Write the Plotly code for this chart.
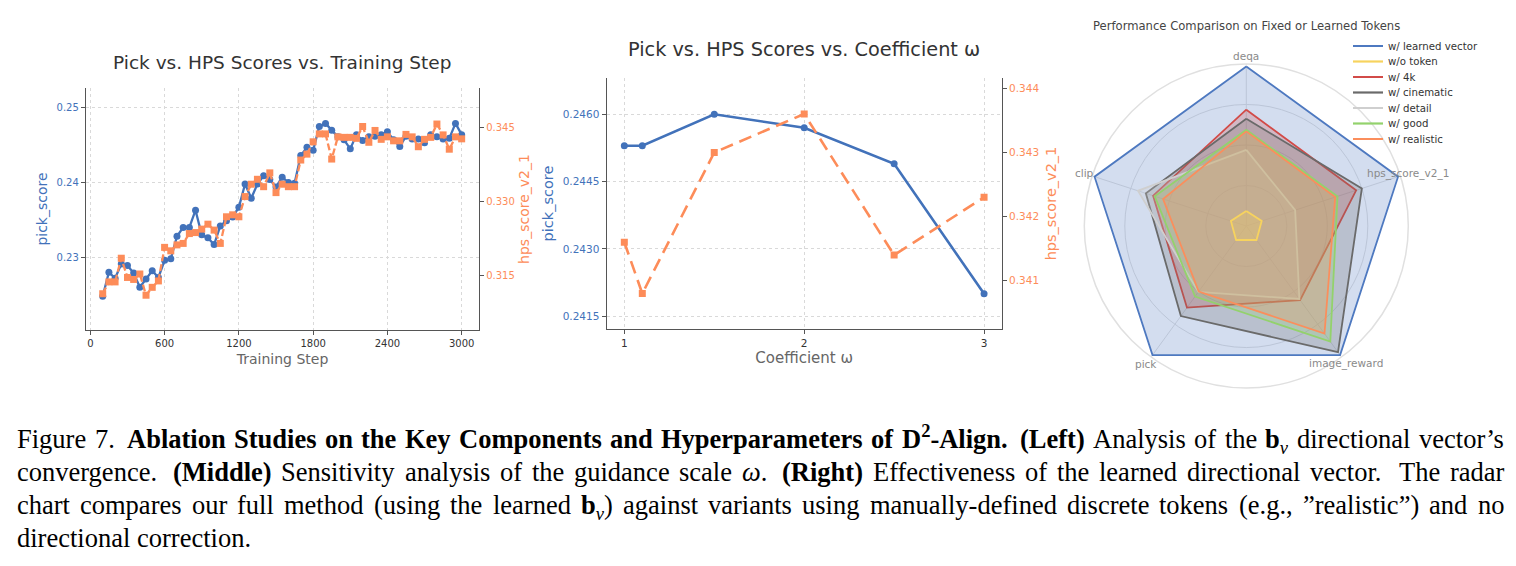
import math
import plotly.graph_objects as go

W, H = 1516, 566


def px(x):
    return x / W


def py(y):
    return 1 - y / H


# ---------------- data: left chart (training step) ----------------
steps = [100, 150, 200, 250, 300, 350, 400, 450, 500, 550, 600, 650, 700, 750, 800,
         850, 900, 950, 1000, 1050, 1100, 1150, 1200, 1250, 1300, 1350, 1400, 1450,
         1500, 1550, 1600, 1650, 1700, 1750, 1800, 1850, 1900, 1950, 2000, 2050, 2100,
         2150, 2200, 2250, 2300, 2350, 2400, 2450, 2500, 2550, 2600, 2650, 2700, 2750,
         2800, 2850, 2900, 2950, 3000]
pick_score_step = [0.2248, 0.2280, 0.2272, 0.2291, 0.2289, 0.2279, 0.2260, 0.2271, 0.2282,
                   0.2273, 0.2296, 0.2298, 0.2328, 0.2340, 0.2340, 0.2363, 0.2330, 0.2326,
                   0.2317, 0.2342, 0.2349, 0.2354, 0.2367, 0.2398, 0.2379, 0.2398, 0.2409,
                   0.2404, 0.2394, 0.2407, 0.2400, 0.2399, 0.2436, 0.2447, 0.2443, 0.2475,
                   0.2479, 0.2470, 0.2461, 0.2457, 0.2445, 0.2464, 0.2456, 0.2461, 0.2462,
                   0.2464, 0.2468, 0.2457, 0.2448, 0.2462, 0.2458, 0.2458, 0.2453, 0.2464,
                   0.2461, 0.2458, 0.2459, 0.2479, 0.2464]
hps_score_step = [0.3112, 0.3136, 0.3136, 0.3184, 0.3145, 0.3141, 0.3152, 0.3109, 0.3125,
                  0.3138, 0.3206, 0.3199, 0.3211, 0.3214, 0.3234, 0.3236, 0.3243, 0.3253,
                  0.3241, 0.3214, 0.3268, 0.3272, 0.3268, 0.3309, 0.3334, 0.3344, 0.3329,
                  0.3357, 0.3317, 0.3334, 0.3329, 0.3329, 0.3383, 0.3395, 0.3420, 0.3436,
                  0.3436, 0.3385, 0.3430, 0.3429, 0.3429, 0.3427, 0.3451, 0.3419, 0.3443,
                  0.3425, 0.3430, 0.3422, 0.3422, 0.3435, 0.3430, 0.3410, 0.3425, 0.3429,
                  0.3456, 0.3434, 0.3405, 0.3430, 0.3426]
step_ticks = [0, 600, 1200, 1800, 2400, 3000]
pick_ticks_step = [0.23, 0.24, 0.25]
hps_ticks_step = [0.315, 0.330, 0.345]

# ---------------- data: middle chart (coefficient omega) ----------------
omega = [1.0, 1.1, 1.5, 2.0, 2.5, 3.0]
pick_score_omega = [0.2453, 0.2453, 0.2460, 0.2457, 0.2449, 0.2420]
hps_score_omega = [0.3416, 0.3408, 0.3430, 0.3436, 0.3414, 0.3423]
omega_ticks = [1, 2, 3]
pick_ticks_omega = [0.2415, 0.2430, 0.2445, 0.2460]
hps_ticks_omega = [0.341, 0.342, 0.343, 0.344]

# ---------------- data: radar chart ----------------
radar_axes = ["deqa", "clip", "pick", "image_reward", "hps_score_v2_1"]
radar_series = ["w/ learned vector", "w/o token", "w/ 4k", "w/ cinematic",
                "w/ detail", "w/ good", "w/ realistic"]
learned_vector = [0.985, 0.985, 0.985, 0.985, 0.985]
wo_token = [0.093, 0.100, 0.107, 0.107, 0.100]
w_4k = [0.718, 0.605, 0.623, 0.565, 0.713]
w_cinematic = [0.662, 0.652, 0.687, 0.963, 0.750]
w_detail = [0.470, 0.703, 0.503, 0.557, 0.317]
w_good = [0.594, 0.594, 0.538, 0.882, 0.592]
w_realistic = [0.584, 0.540, 0.500, 0.821, 0.577]
radar_values = [learned_vector, wo_token, w_4k, w_cinematic, w_detail, w_good, w_realistic]
radar_colors = ["#4e79c0", "#f7d35e", "#d24b48", "#6a6a6a", "#cfcfcf", "#93d26c", "#fb8e5c"]

BLUE = "#4272ba"
ORANGE = "#fd8c59"
SPINE = "#555555"
GRID = "#d9d9d9"
SANS = "DejaVu Sans, Verdana, sans-serif"
SERIF = "Liberation Serif, Times New Roman, serif"

fig = go.Figure()

# left chart traces
fig.add_trace(go.Scatter(x=steps, y=pick_score_step, mode="lines+markers", xaxis="x", yaxis="y",
                         line=dict(color=BLUE, width=2.3), marker=dict(color=BLUE, size=7, symbol="circle"),
                         showlegend=False))
fig.add_trace(go.Scatter(x=steps, y=hps_score_step, mode="lines+markers", xaxis="x", yaxis="y2",
                         line=dict(color=ORANGE, width=2.3, dash="7px,3px"),
                         marker=dict(color=ORANGE, size=7, symbol="square"), showlegend=False))

# middle chart traces
fig.add_trace(go.Scatter(x=omega, y=pick_score_omega, mode="lines+markers", xaxis="x2", yaxis="y3",
                         line=dict(color=BLUE, width=2.6), marker=dict(color=BLUE, size=7, symbol="circle"),
                         showlegend=False))
fig.add_trace(go.Scatter(x=omega, y=hps_score_omega, mode="lines+markers", xaxis="x2", yaxis="y4",
                         line=dict(color=ORANGE, width=2.6, dash="13px,7px"),
                         marker=dict(color=ORANGE, size=7, symbol="square"), showlegend=False))


def rgba(hexcol, a):
    h = hexcol.lstrip("#")
    r, g, b = int(h[0:2], 16), int(h[2:4], 16), int(h[4:6], 16)
    return f"rgba({r},{g},{b},{a})"


# filled radar polygons (the "w/o token" outline is drawn last so it stays visible)
draw_order = [0, 2, 3, 4, 5, 6, 1]
for k in draw_order:
    vals, col = radar_values[k], radar_colors[k]
    fig.add_trace(go.Scatterpolar(
        r=vals + vals[:1], theta=radar_axes + radar_axes[:1], name=radar_series[k], mode="lines",
        line=dict(color=col, width=1.8), fill="toself", fillcolor=rgba(col, 0.25),
        subplot="polar", showlegend=False))

# legend entries (line samples only), one small legend per row
LEG_X, LEG_Y0, LEG_DY = 1348, 46, 15.5
legend_layouts = {}
for k, (name, col) in enumerate(zip(radar_series, radar_colors)):
    lname = "legend" if k == 0 else f"legend{k + 1}"
    fig.add_trace(go.Scatterpolar(r=[None], theta=[None], name=name, mode="lines",
                                  line=dict(color=col, width=2.2), subplot="polar",
                                  showlegend=True, legend=lname))
    legend_layouts[lname] = dict(x=px(LEG_X), y=py(LEG_Y0 + k * LEG_DY), xanchor="left",
                                 yanchor="middle", font=dict(size=10.2, color="#333333", family=SANS),
                                 bgcolor="rgba(0,0,0,0)", itemwidth=30, borderwidth=0)

tick_common = dict(showline=True, linecolor=SPINE, linewidth=1.4, ticks="outside", ticklen=4,
                   tickcolor=SPINE, tickwidth=1, zeroline=False)

POLAR_CX, POLAR_CY, POLAR_R = 1246.3, 226, 162

fig.update_layout(
    width=W, height=H, autosize=False,
    margin=dict(l=0, r=0, t=0, b=0),
    paper_bgcolor="white", plot_bgcolor="white",
    font=dict(family=SANS, color="#333333"),
    xaxis=dict(domain=[px(86), px(479)], anchor="y", range=[-35, 3140],
               tickvals=step_ticks, ticktext=[str(v) for v in step_ticks],
               tickfont=dict(size=10, color="#333333"),
               showgrid=True, gridcolor=GRID, griddash="dot", gridwidth=1,
               title=dict(text="Training Step", font=dict(size=14, color="#666666"), standoff=5),
               **tick_common),
    yaxis=dict(domain=[py(330), py(88)], anchor="x", range=[0.220281, 0.252634],
               tickvals=pick_ticks_step, ticktext=[f"{v:.2f}" for v in pick_ticks_step],
               tickfont=dict(size=10, color=BLUE),
               showgrid=True, gridcolor=GRID, griddash="dot", gridwidth=1,
               title=dict(text="pick_score", font=dict(size=14, color=BLUE), standoff=5),
               **tick_common),
    yaxis2=dict(overlaying="y", side="right", anchor="x", range=[0.303851, 0.352905],
                tickvals=hps_ticks_step, ticktext=[f"{v:.3f}" for v in hps_ticks_step],
                tickfont=dict(size=10, color=ORANGE), showgrid=False,
                title=dict(text="hps_score_v2_1", font=dict(size=14, color=ORANGE), standoff=5),
                **tick_common),
    xaxis2=dict(domain=[px(606.7), px(1001.7)], anchor="y3", range=[0.902, 3.098],
                tickvals=omega_ticks, ticktext=[str(v) for v in omega_ticks],
                tickfont=dict(size=10.5, color="#333333"),
                showgrid=True, gridcolor=GRID, griddash="dot", gridwidth=1,
                title=dict(text="Coefficient ω", font=dict(size=15, color="#666666"), standoff=4),
                **tick_common),
    yaxis3=dict(domain=[py(329), py(78)], anchor="x2", range=[0.241217, 0.246809],
                tickvals=pick_ticks_omega, ticktext=[f"{v:.4f}" for v in pick_ticks_omega],
                tickfont=dict(size=10.5, color=BLUE),
                showgrid=True, gridcolor=GRID, griddash="dot", gridwidth=1,
                title=dict(text="pick_score", font=dict(size=14.5, color=BLUE), standoff=5),
                **tick_common),
    yaxis4=dict(overlaying="y3", side="right", anchor="x2", range=[0.340247, 0.344161],
                tickvals=hps_ticks_omega, ticktext=[f"{v:.3f}" for v in hps_ticks_omega],
                tickfont=dict(size=10.5, color=ORANGE), showgrid=False,
                title=dict(text="hps_score_v2_1", font=dict(size=14.5, color=ORANGE), standoff=7),
                **tick_common),
    polar=dict(
        domain=dict(x=[px(POLAR_CX - POLAR_R), px(POLAR_CX + POLAR_R)],
                    y=[py(POLAR_CY + POLAR_R), py(POLAR_CY - POLAR_R)]),
        bgcolor="white",
        radialaxis=dict(range=[0, 1], tickvals=[0.25, 0.5, 0.75], showticklabels=False,
                        showline=False, ticks="", gridcolor="#e0e0e0", gridwidth=1),
        angularaxis=dict(rotation=90, direction="counterclockwise", ticks="", showticklabels=False,
                         gridcolor="#e0e0e0", linecolor="#e0e0e0", linewidth=1.5),
    ),
    **legend_layouts,
)

annotations = [
    dict(text="Pick vs. HPS Scores vs. Training Step", x=px(282), y=py(62),
         font=dict(size=18.5, color="#333333", family=SANS)),
    dict(text="Pick vs. HPS Scores vs. Coefficient ω", x=px(804), y=py(50),
         font=dict(size=19.3, color="#333333", family=SANS)),
    dict(text="Performance Comparison on Fixed or Learned Tokens", x=px(1246), y=py(25.7),
         font=dict(size=11.6, color="#444444", family=SANS)),
]
# radar category labels, centred on the spokes just outside the outer ring (matplotlib style)
for i, name in enumerate(radar_axes):
    ang = math.radians(90 + 72 * i)
    lx = POLAR_CX + 1.05 * POLAR_R * math.cos(ang)
    ly = POLAR_CY - 1.05 * POLAR_R * math.sin(ang)
    annotations.append(dict(text=name, x=px(lx), y=py(ly),
                            font=dict(size=10.5, color="#8a8a8a", family=SANS)))
for a in annotations:
    a.update(xref="paper", yref="paper", showarrow=False, xanchor="center", yanchor="middle")

# ---------------- caption (justified, word by word) ----------------
ROMAN = {" ": 250, "(": 333, ")": 333, ",": 250, "-": 333, ".": 250, "7": 500, "’": 333, "”": 444,
         "A": 722, "B": 667, "C": 667, "D": 722, "E": 611, "F": 556, "G": 722, "H": 722, "I": 333,
         "J": 389, "K": 722, "L": 611, "M": 889, "N": 722, "O": 722, "P": 556, "Q": 722, "R": 667,
         "S": 556, "T": 611, "U": 722, "V": 722, "W": 944, "X": 722, "Y": 722, "Z": 611,
         "a": 444, "b": 500, "c": 444, "d": 500, "e": 444, "f": 333, "g": 500, "h": 500, "i": 278,
         "j": 278, "k": 500, "l": 278, "m": 778, "n": 500, "o": 500, "p": 500, "q": 500, "r": 333,
         "s": 389, "t": 278, "u": 500, "v": 500, "w": 722, "x": 500, "y": 500, "z": 444}
BOLD = {" ": 250, "(": 333, ")": 333, ",": 250, "-": 333, ".": 250, "2": 500,
        "A": 722, "B": 667, "C": 722, "D": 722, "E": 667, "F": 611, "G": 778, "H": 778, "I": 389,
        "J": 500, "K": 778, "L": 667, "M": 944, "N": 722, "O": 778, "P": 611, "Q": 778, "R": 722,
        "S": 556, "T": 667, "U": 722, "V": 722, "W": 1000, "X": 722, "Y": 722, "Z": 667,
        "a": 500, "b": 556, "c": 444, "d": 556, "e": 444, "f": 333, "g": 500, "h": 556, "i": 278,
        "j": 333, "k": 556, "l": 278, "m": 833, "n": 556, "o": 500, "p": 556, "q": 556, "r": 444,
        "s": 389, "t": 333, "u": 556, "v": 500, "w": 722, "x": 500, "y": 500, "z": 444}
ITALIC = {"v": 444, "ω": 670}

caption_lines = [
    [[("Figure", "r")], [("7.", "r")], [("Ablation", "b")], [("Studies", "b")], [("on", "b")],
     [("the", "b")], [("Key", "b")], [("Components", "b")], [("and", "b")],
     [("Hyperparameters", "b")], [("of", "b")], [("D", "b"), ("2", "bsup"), ("-Align.", "b")],
     [("(Left)", "b")], [("Analysis", "r")], [("of", "r")], [("the", "r")],
     [("b", "b"), ("v", "isub")], [("directional", "r")], [("vector’s", "r")]],
    [[("convergence.", "r")], [("(Middle)", "b")], [("Sensitivity", "r")], [("analysis", "r")],
     [("of", "r")], [("the", "r")], [("guidance", "r")], [("scale", "r")],
     [("ω", "i"), (".", "r")], [("(Right)", "b")], [("Effectiveness", "r")], [("of", "r")],
     [("the", "r")], [("learned", "r")], [("directional", "r")], [("vector.", "r")],
     [("The", "r")], [("radar", "r")]],
    [[("chart", "r")], [("compares", "r")], [("our", "r")], [("full", "r")], [("method", "r")],
     [("(using", "r")], [("the", "r")], [("learned", "r")], [("b", "b"), ("v", "isub"), (")", "r")],
     [("against", "r")], [("variants", "r")], [("using", "r")], [("manually-defined", "r")],
     [("discrete", "r")], [("tokens", "r")], [("(e.g.,", "r")], [("”realistic”)", "r")],
     [("and", "r")], [("no", "r")]],
    [[("directional", "r")], [("correction.", "r")]],
]
caption_justify = [True, True, True, False]
caption_baselines = [448.3, 480.7, 514.0, 546.7]
CAP_FS = 26.5
CAP_L, CAP_R = 16, 1503


def seg_width(text, style):
    if style == "r":
        return sum(ROMAN.get(c, 500) for c in text) / 1000
    if style == "b":
        return sum(BOLD.get(c, 500) for c in text) / 1000
    if style == "i":
        return sum(ITALIC.get(c, 500) for c in text) / 1000
    if style == "bsup":
        return 0.7 * sum(BOLD.get(c, 500) for c in text) / 1000
    if style == "isub":
        return 0.7 * sum(ITALIC.get(c, 500) for c in text) / 1000
    return 0.5 * len(text)


def seg_html(text, style):
    if style == "b":
        return f"<b>{text}</b>"
    if style == "i":
        return f"<i>{text}</i>"
    if style == "bsup":
        return f"<b><sup>{text}</sup></b>"
    if style == "isub":
        return f"<sub><i>{text}</i></sub>"
    return text


for words, justify, base in zip(caption_lines, caption_justify, caption_baselines):
    widths = [sum(seg_width(t, s) for t, s in w) * CAP_FS for w in words]
    nat, stretch = [], []
    for w in words[:-1]:
        last = w[-1][0]
        sentence_end = last.endswith(".") and not last.endswith("e.g.,")
        nat.append((0.25 + (0.04 if sentence_end else 0.0)) * CAP_FS)
        stretch.append((0.36 if sentence_end else 0.15) * CAP_FS)
    if justify:
        extra = (CAP_R - CAP_L) - sum(widths) - sum(nat)
        ratio = extra / sum(stretch)
        gaps = [n + ratio * s for n, s in zip(nat, stretch)]
    else:
        gaps = [0.25 * CAP_FS for _ in nat]
    xcur = CAP_L
    for i, w in enumerate(words):
        has_sup = any(s == "bsup" for _, s in w)
        has_sub = any(s == "isub" for _, s in w)
        top = 0.891 + (0.15 if has_sup else 0.0)
        bot = 0.216 + (0.145 if has_sub else 0.0)
        ymid = base + (bot - top) / 2 * CAP_FS
        annotations.append(dict(
            text="".join(seg_html(t, s) for t, s in w), x=px(xcur - 1), y=py(ymid),
            xref="paper", yref="paper", showarrow=False, xanchor="left", yanchor="middle",
            font=dict(size=CAP_FS, color="#000000", family=SERIF)))
        if i < len(gaps):
            xcur += widths[i] + gaps[i]

fig.update_layout(annotations=annotations)
fig.write_html("out.html")
